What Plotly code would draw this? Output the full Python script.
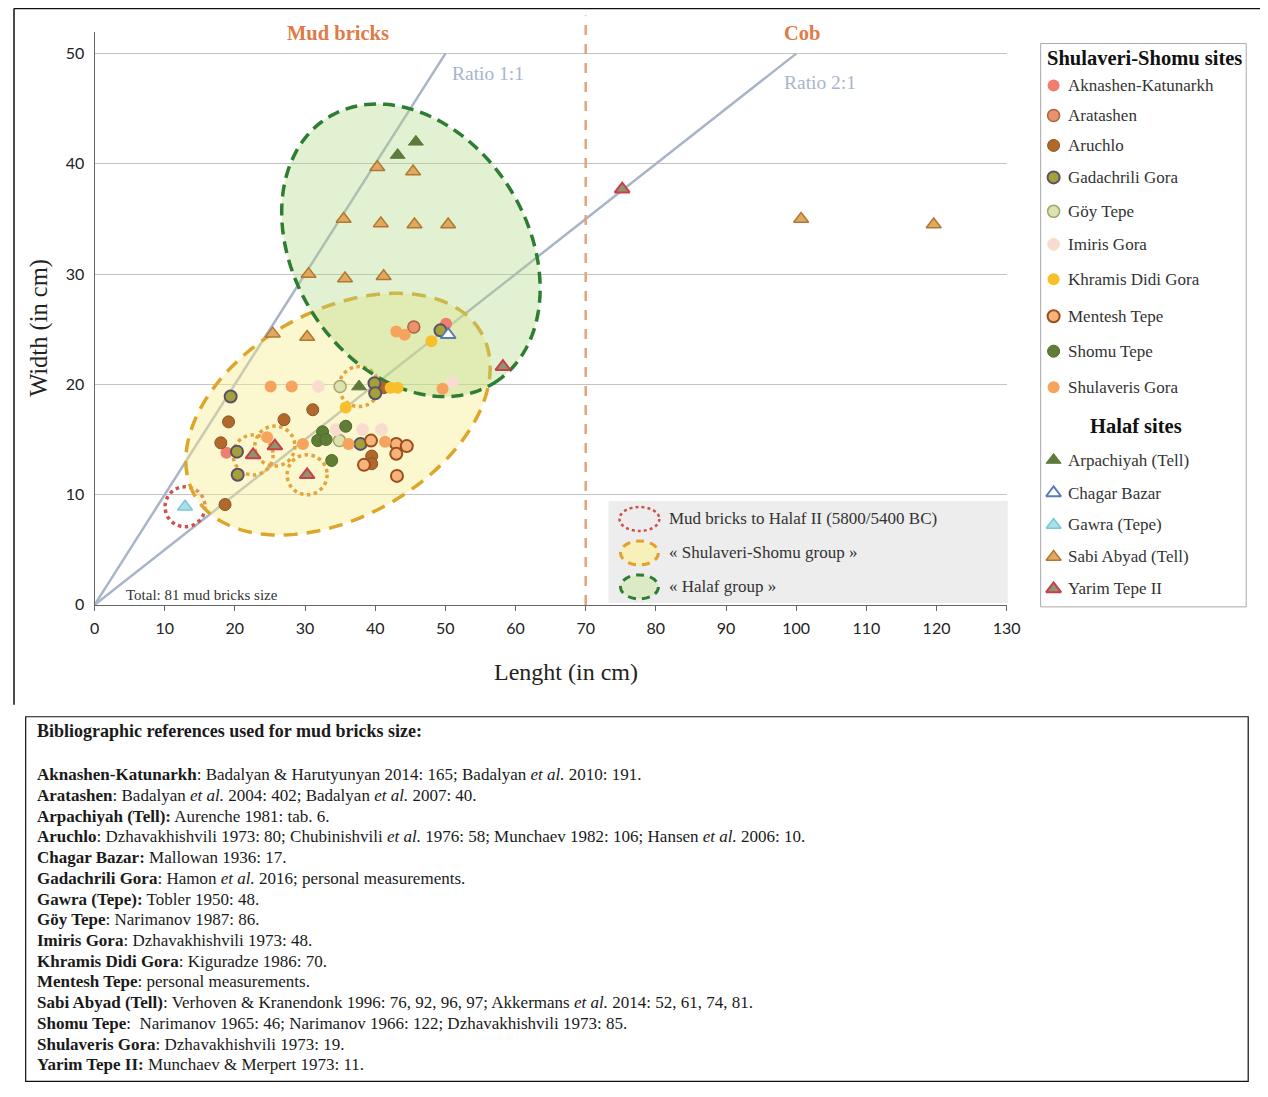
import numpy as np
import plotly.graph_objects as go

# ---------------------------------------------------------------- data
# Shulaveri-Shomu sites: length (cm) / width (cm)
AKNASHEN_L = [18.8, 50.1]
AKNASHEN_W = [13.8, 25.5]
ARATASHEN_L = [45.5]
ARATASHEN_W = [25.2]
ARUCHLO_L = [31.1, 27.0, 19.1, 18.0, 18.6, 41.2, 39.5, 39.5]
ARUCHLO_W = [17.7, 16.8, 16.6, 14.7, 9.1, 19.7, 13.5, 12.8]
GADACHRILI_L = [19.4, 20.3, 20.4, 39.9, 40.0, 37.9, 49.3]
GADACHRILI_W = [18.9, 13.9, 11.8, 20.1, 19.2, 14.6, 24.9]
GOY_L = [35.0, 34.9]
GOY_W = [19.8, 14.9]
IMIRIS_L = [31.9, 34.4, 38.2, 40.9, 51.0]
IMIRIS_W = [19.8, 15.9, 15.9, 15.9, 20.2]
KHRAMIS_L = [35.8, 42.2, 43.2, 48.0]
KHRAMIS_W = [17.9, 19.7, 19.7, 23.9]
MENTESH_L = [39.4, 43.0, 44.5, 43.0, 38.4, 43.1]
MENTESH_W = [14.9, 14.6, 14.4, 13.7, 12.7, 11.7]
SHOMU_L = [32.5, 31.8, 33.0, 35.8, 33.8]
SHOMU_W = [15.7, 14.9, 15.0, 16.2, 13.1]
SHULAVERIS_L = [25.1, 28.1, 24.6, 29.7, 36.2, 41.4, 43.0, 44.2, 49.6]
SHULAVERIS_W = [19.8, 19.8, 15.2, 14.6, 14.6, 14.8, 24.8, 24.5, 19.6]

# Halaf sites
ARPACHIYAH_L = [43.2, 45.8, 37.7]
ARPACHIYAH_W = [40.8, 42.0, 19.8]
CHAGAR_L = [50.4]
CHAGAR_W = [24.5]
GAWRA_L = [12.9]
GAWRA_W = [8.9]
SABI_L = [40.3, 45.4, 35.5, 40.8, 45.6, 50.4, 30.5, 35.7, 41.2, 25.4, 30.3, 100.7, 119.6]
SABI_W = [39.7, 39.3, 35.0, 34.6, 34.5, 34.5, 30.0, 29.6, 29.8, 24.6, 24.3, 35.0, 34.5]
YARIM_L = [22.6, 25.7, 30.3, 58.2, 75.2]
YARIM_W = [13.6, 14.4, 11.8, 21.6, 37.7]

# bricks dated to Halaf II (5800/5400 BC)
HALAF2_L = [12.9, 22.6, 25.7, 30.3, 37.7]
HALAF2_W = [8.9, 13.6, 14.4, 11.8, 19.8]

X_TICKS = list(range(0, 131, 10))
Y_TICKS = list(range(0, 51, 10))
RATIO_11 = ([0, 50], [0, 50])
RATIO_21 = ([0, 100], [0, 50])
MATERIAL_LIMIT = 70

SS_SITES = ["Aknashen-Katunarkh", "Aratashen", "Aruchlo", "Gadachrili Gora", "Göy Tepe",
            "Imiris Gora", "Khramis Didi Gora", "Mentesh Tepe", "Shomu Tepe", "Shulaveris Gora"]
HALAF_SITES = ["Arpachiyah (Tell)", "Chagar Bazar", "Gawra (Tepe)", "Sabi Abyad (Tell)", "Yarim Tepe II"]

site_data = {
    "Aknashen-Katunarkh": (AKNASHEN_L, AKNASHEN_W),
    "Aratashen": (ARATASHEN_L, ARATASHEN_W),
    "Aruchlo": (ARUCHLO_L, ARUCHLO_W),
    "Gadachrili Gora": (GADACHRILI_L, GADACHRILI_W),
    "Göy Tepe": (GOY_L, GOY_W),
    "Imiris Gora": (IMIRIS_L, IMIRIS_W),
    "Khramis Didi Gora": (KHRAMIS_L, KHRAMIS_W),
    "Mentesh Tepe": (MENTESH_L, MENTESH_W),
    "Shomu Tepe": (SHOMU_L, SHOMU_W),
    "Shulaveris Gora": (SHULAVERIS_L, SHULAVERIS_W),
    "Arpachiyah (Tell)": (ARPACHIYAH_L, ARPACHIYAH_W),
    "Chagar Bazar": (CHAGAR_L, CHAGAR_W),
    "Gawra (Tepe)": (GAWRA_L, GAWRA_W),
    "Sabi Abyad (Tell)": (SABI_L, SABI_W),
    "Yarim Tepe II": (YARIM_L, YARIM_W),
}

BIB_TITLE = "<b>Bibliographic references used for mud bricks size:</b>"
BIB_LINES = [
    "<b>Aknashen-Katunarkh</b>: Badalyan &amp; Harutyunyan 2014: 165; Badalyan <i>et al.</i> 2010: 191.",
    "<b>Aratashen</b>: Badalyan <i>et al.</i> 2004: 402; Badalyan <i>et al.</i> 2007: 40.",
    "<b>Arpachiyah (Tell):</b> Aurenche 1981: tab. 6.",
    "<b>Aruchlo</b>: Dzhavakhishvili 1973: 80; Chubinishvili <i>et al.</i> 1976: 58; Munchaev 1982: 106; Hansen <i>et al.</i> 2006: 10.",
    "<b>Chagar Bazar:</b> Mallowan 1936: 17.",
    "<b>Gadachrili Gora</b>: Hamon <i>et al.</i> 2016; personal measurements.",
    "<b>Gawra (Tepe):</b> Tobler 1950: 48.",
    "<b>Göy Tepe</b>: Narimanov 1987: 86.",
    "<b>Imiris Gora</b>: Dzhavakhishvili 1973: 48.",
    "<b>Khramis Didi Gora</b>: Kiguradze 1986: 70.",
    "<b>Mentesh Tepe</b>: personal measurements.",
    "<b>Sabi Abyad (Tell)</b>: Verhoven &amp; Kranendonk 1996: 76, 92, 96, 97; Akkermans <i>et al.</i> 2014: 52, 61, 74, 81.",
    "<b>Shomu Tepe</b>:  Narimanov 1965: 46; Narimanov 1966: 122; Dzhavakhishvili 1973: 85.",
    "<b>Shulaveris Gora</b>: Dzhavakhishvili 1973: 19.",
    "<b>Yarim Tepe II:</b> Munchaev &amp; Merpert 1973: 11.",
]

# ---------------------------------------------------------------- styles
styles = {
    "Aknashen-Katunarkh": ("circle", "#F07E6E", "#F07E6E", 0),
    "Aratashen": ("circle", "#EA9270", "#A8643C", 1.5),
    "Aruchlo": ("circle", "#B0692A", "#8A5426", 1),
    "Gadachrili Gora": ("circle", "#A4A03A", "#5C5068", 2),
    "Göy Tepe": ("circle", "#DDE3B0", "#A3A56B", 1.5),
    "Imiris Gora": ("circle", "#FADBD0", "#F3E6C8", 1),
    "Khramis Didi Gora": ("circle", "#F7C02A", "#F7C02A", 0),
    "Mentesh Tepe": ("circle", "#F6B37A", "#9A4E1E", 2),
    "Shomu Tepe": ("circle", "#5F7D35", "#4E6A2B", 1),
    "Shulaveris Gora": ("circle", "#F6A35E", "#F6A35E", 0),
    "Arpachiyah (Tell)": ("triangle-up", "#5E7A3C", "#5E7A3C", 1),
    "Chagar Bazar": ("triangle-up", "#FFFFFF", "#5A7AB8", 2),
    "Gawra (Tepe)": ("triangle-up", "#A8E0E8", "#7CC8D8", 1.5),
    "Sabi Abyad (Tell)": ("triangle-up", "#E0A860", "#B07830", 1.5),
    "Yarim Tepe II": ("triangle-up", "#8E9470", "#C8404A", 2),
}

# figure size, and the measured placement of the figure inside the photographed page
FW, FH = 1268, 1097
A_X, S_X = 11.3, 0.987
A_Y, S_Y = 7.4, 0.993
PX0, PX1 = 93, 1007          # plot area in picture pixels
PY_TOP, PY_BOT = 31, 605
X_RANGE = [0, 130]
Y_RANGE = [0, 52]
SERIF = "Liberation Serif"


def xp(px):
    return ((px - A_X) / S_X) / FW


def yp(py):
    return 1 - ((py - A_Y) / S_Y) / FH


def marker_for(site):
    sym, fill, lc, lw = styles[site]
    size = 12 if sym == "circle" else 13
    return dict(symbol=sym, size=size, color=fill, line=dict(color=lc, width=lw))


def txt(x, y, text, size, color="#333333", xa="center", ya="middle", **kw):
    d = dict(x=xp(x), y=yp(y), xref="paper", yref="paper", text=text, showarrow=False,
             xanchor=xa, yanchor=ya, font=dict(family=SERIF, size=size, color=color))
    d.update(kw)
    return d


fig = go.Figure()

# main scatter
for site in SS_SITES + HALAF_SITES:
    L, Wd = site_data[site]
    fig.add_trace(go.Scatter(x=L, y=Wd, mode="markers", marker=marker_for(site), name=site,
                             xaxis="x", yaxis="y", showlegend=False, cliponaxis=False,
                             hovertemplate=site + ": %{x} × %{y} cm<extra></extra>"))

# custom legend (separate subplot in pixel units of the legend box)
LEG_X0, LEG_X1, LEG_Y0, LEG_Y1 = 1041, 1247, 43, 607
ss_rows = [85, 115, 145, 177, 211, 244, 279, 316, 351, 387]
halaf_rows = [460, 493, 525, 557, 589]
annotations = []
for site, row in list(zip(SS_SITES, ss_rows)) + list(zip(HALAF_SITES, halaf_rows)):
    fig.add_trace(go.Scatter(x=[1054 - LEG_X0], y=[row - LEG_Y0], mode="markers",
                             marker=marker_for(site), xaxis="x2", yaxis="y2",
                             showlegend=False, hoverinfo="skip", cliponaxis=False))
    annotations.append(txt(1066, row, site, 17, xa="left"))
annotations.append(txt(1145, 57, "<b>Shulaveri-Shomu sites</b>", 20.5, "#111111"))
annotations.append(txt(1137, 426, "<b>Halaf sites</b>", 20.5, "#111111"))

# ---------------------------------------------------------------- shapes
sx = (PX1 - PX0) / (X_RANGE[1] - X_RANGE[0])     # picture px per cm
sy = (PY_BOT - PY_TOP) / (Y_RANGE[1] - Y_RANGE[0])

SS_ELLIPSE = (34.70, 17.30, 165.1, 103.2, 29.4)     # centre (cm), semi-axes (px), angle (deg)
HALAF_ELLIPSE = (45.09, 32.16, 156.8, 116.8, -57.7)


def ellipse_xy(cx, cy, a_px, b_px, ang_deg, n=160):
    t = np.linspace(0, 2 * np.pi, n, endpoint=False)
    phi = np.radians(ang_deg)
    dx = a_px * np.cos(t) * np.cos(phi) - b_px * np.sin(t) * np.sin(phi)
    dy = a_px * np.cos(t) * np.sin(phi) + b_px * np.sin(t) * np.cos(phi)
    return cx + dx / sx, cy + dy / sy


def ellipse_path(params):
    xs, ys = ellipse_xy(*params)
    return "M " + " L ".join(f"{x:.3f},{y:.3f}" for x, y in zip(xs, ys)) + " Z"


def inside(params, x, y):
    cx, cy, a, b, ang = params
    phi = np.radians(ang)
    dx, dy = (x - cx) * sx, (y - cy) * sy
    u = dx * np.cos(phi) + dy * np.sin(phi)
    v = -dx * np.sin(phi) + dy * np.cos(phi)
    return (u / a) ** 2 + (v / b) ** 2 <= 1


shapes = []
RATIO_COLOR = "#A9B4C8"
for (rx, ry) in (RATIO_11, RATIO_21):
    shapes.append(dict(type="line", xref="x", yref="y", x0=rx[0], y0=ry[0], x1=rx[1], y1=ry[1],
                       line=dict(color=RATIO_COLOR, width=2.5), layer="between"))
for hx, hy in zip(HALAF2_L, HALAF2_W):
    col = "#D86E00" if inside(SS_ELLIPSE, hx, hy) else "#D0504F"
    shapes.append(dict(type="circle", xref="x", yref="y", xsizemode="pixel", ysizemode="pixel",
                       xanchor=hx, yanchor=hy, x0=-20, x1=20, y0=-20, y1=20,
                       line=dict(color=col, width=3.5, dash="dot"), layer="between"))
shapes.append(dict(type="path", xref="x", yref="y", path=ellipse_path(SS_ELLIPSE),
                   fillcolor="rgba(245,235,140,0.42)", line=dict(color="#DDA62A", width=3.5, dash="14px,9px"),
                   layer="between"))
shapes.append(dict(type="path", xref="x", yref="y", path=ellipse_path(HALAF_ELLIPSE),
                   fillcolor="rgba(175,215,130,0.35)", line=dict(color="#2E7D32", width=3.5, dash="12px,7px"),
                   layer="between"))
# material limit line
shapes.append(dict(type="line", xref="x", yref="paper", x0=MATERIAL_LIMIT, x1=MATERIAL_LIMIT,
                   y0=yp(PY_BOT), y1=yp(15), line=dict(color="#E6A27A", width=2.5, dash="10px,9px"),
                   layer="above"))
# group legend box
shapes.append(dict(type="rect", xref="paper", yref="paper", x0=xp(608), x1=xp(1008), y0=yp(603), y1=yp(501),
                   fillcolor="#EDEDED", line=dict(width=0), layer="above"))
shapes.append(dict(type="circle", xref="paper", yref="paper", x0=xp(619), x1=xp(659), y0=yp(531), y1=yp(507),
                   line=dict(color="#D0504F", width=2.5, dash="dot"), layer="above"))
shapes.append(dict(type="circle", xref="paper", yref="paper", x0=xp(620), x1=xp(658), y0=yp(565), y1=yp(541),
                   fillcolor="#F7F0B8", line=dict(color="#E3A030", width=3, dash="8px,6px"), layer="above"))
shapes.append(dict(type="circle", xref="paper", yref="paper", x0=xp(620), x1=xp(658), y0=yp(599), y1=yp(575),
                   fillcolor="#DCEAC8", line=dict(color="#2E7D32", width=3, dash="8px,6px"), layer="above"))
# site legend box
shapes.append(dict(type="rect", xref="paper", yref="paper", x0=xp(LEG_X0), x1=xp(LEG_X1), y0=yp(LEG_Y1),
                   y1=yp(LEG_Y0), line=dict(color="#AAAAAA", width=1), layer="above"))
# outer frame lines (kept just inside the drawable area)
FRAME_X = max(7, A_X + 1)
shapes.append(dict(type="line", xref="paper", yref="paper", x0=xp(FRAME_X), x1=1, y0=yp(8), y1=yp(8),
                   line=dict(color="#111111", width=1.5), layer="above"))
shapes.append(dict(type="line", xref="paper", yref="paper", x0=xp(FRAME_X), x1=xp(FRAME_X), y0=yp(8), y1=yp(705),
                   line=dict(color="#111111", width=1.5), layer="above"))
# bibliography box
shapes.append(dict(type="rect", xref="paper", yref="paper", x0=xp(24), x1=xp(1249), y0=yp(1082), y1=yp(717),
                   line=dict(color="#111111", width=1.2), layer="above"))

# ---------------------------------------------------------------- text
annotations += [
    txt(667, 519, "Mud bricks to Halaf II (5800/5400 BC)", 17, xa="left"),
    txt(667, 553, "« Shulaveri-Shomu group »", 17, xa="left"),
    txt(667, 587, "« Halaf group »", 17, xa="left"),
    txt(337, 32, "<b>Mud bricks</b>", 20.5, "#E07B45"),
    txt(802, 32, "<b>Cob</b>", 20.5, "#E07B45"),
    txt(449, 73, "Ratio 1:1", 19.5, "#A9B5CC", xa="left"),
    txt(782, 82, "Ratio 2:1", 19.5, "#A9B5CC", xa="left"),
    txt(123, 595, "Total: 81 mud bricks size", 15, xa="left"),
    txt(38, 328, "Width (in cm)", 24.5, "#222222", textangle=-90),
    txt(565, 672, "Lenght (in cm)", 24, "#222222"),
    txt(33, 731, BIB_TITLE, 18, "#1A1A1A", xa="left"),
]
for i, line in enumerate(BIB_LINES):
    annotations.append(txt(33, 775 + 20.75 * i, line, 17, "#1A1A1A", xa="left"))

fig.update_layout(
    width=FW, height=FH,
    margin=dict(l=0, r=0, t=0, b=0),
    paper_bgcolor="white", plot_bgcolor="rgba(0,0,0,0)",
    showlegend=False,
    xaxis=dict(domain=[xp(PX0), xp(PX1)], range=X_RANGE, tickvals=X_TICKS, showgrid=False, zeroline=False,
               showline=True, linecolor="#666666", linewidth=1, ticks="outside", ticklen=5, tickcolor="#666666",
               ticklabelstandoff=4, tickfont=dict(family="Lato", size=16, color="#222222"), fixedrange=True),
    yaxis=dict(domain=[yp(PY_BOT), yp(PY_TOP)], range=Y_RANGE, tickvals=Y_TICKS, showgrid=True,
               gridcolor="#C4C4C4", gridwidth=1.3, zeroline=False, showline=True, linecolor="#666666",
               linewidth=1, ticks="", ticklabelstandoff=6,
               tickfont=dict(family="Lato", size=16, color="#222222"), fixedrange=True),
    xaxis2=dict(domain=[xp(LEG_X0), xp(LEG_X1)], range=[0, LEG_X1 - LEG_X0], visible=False, fixedrange=True),
    yaxis2=dict(domain=[yp(LEG_Y1), yp(LEG_Y0)], range=[LEG_Y1 - LEG_Y0, 0], visible=False, fixedrange=True),
    shapes=shapes,
    annotations=annotations,
)

fig.write_html("out.html")
